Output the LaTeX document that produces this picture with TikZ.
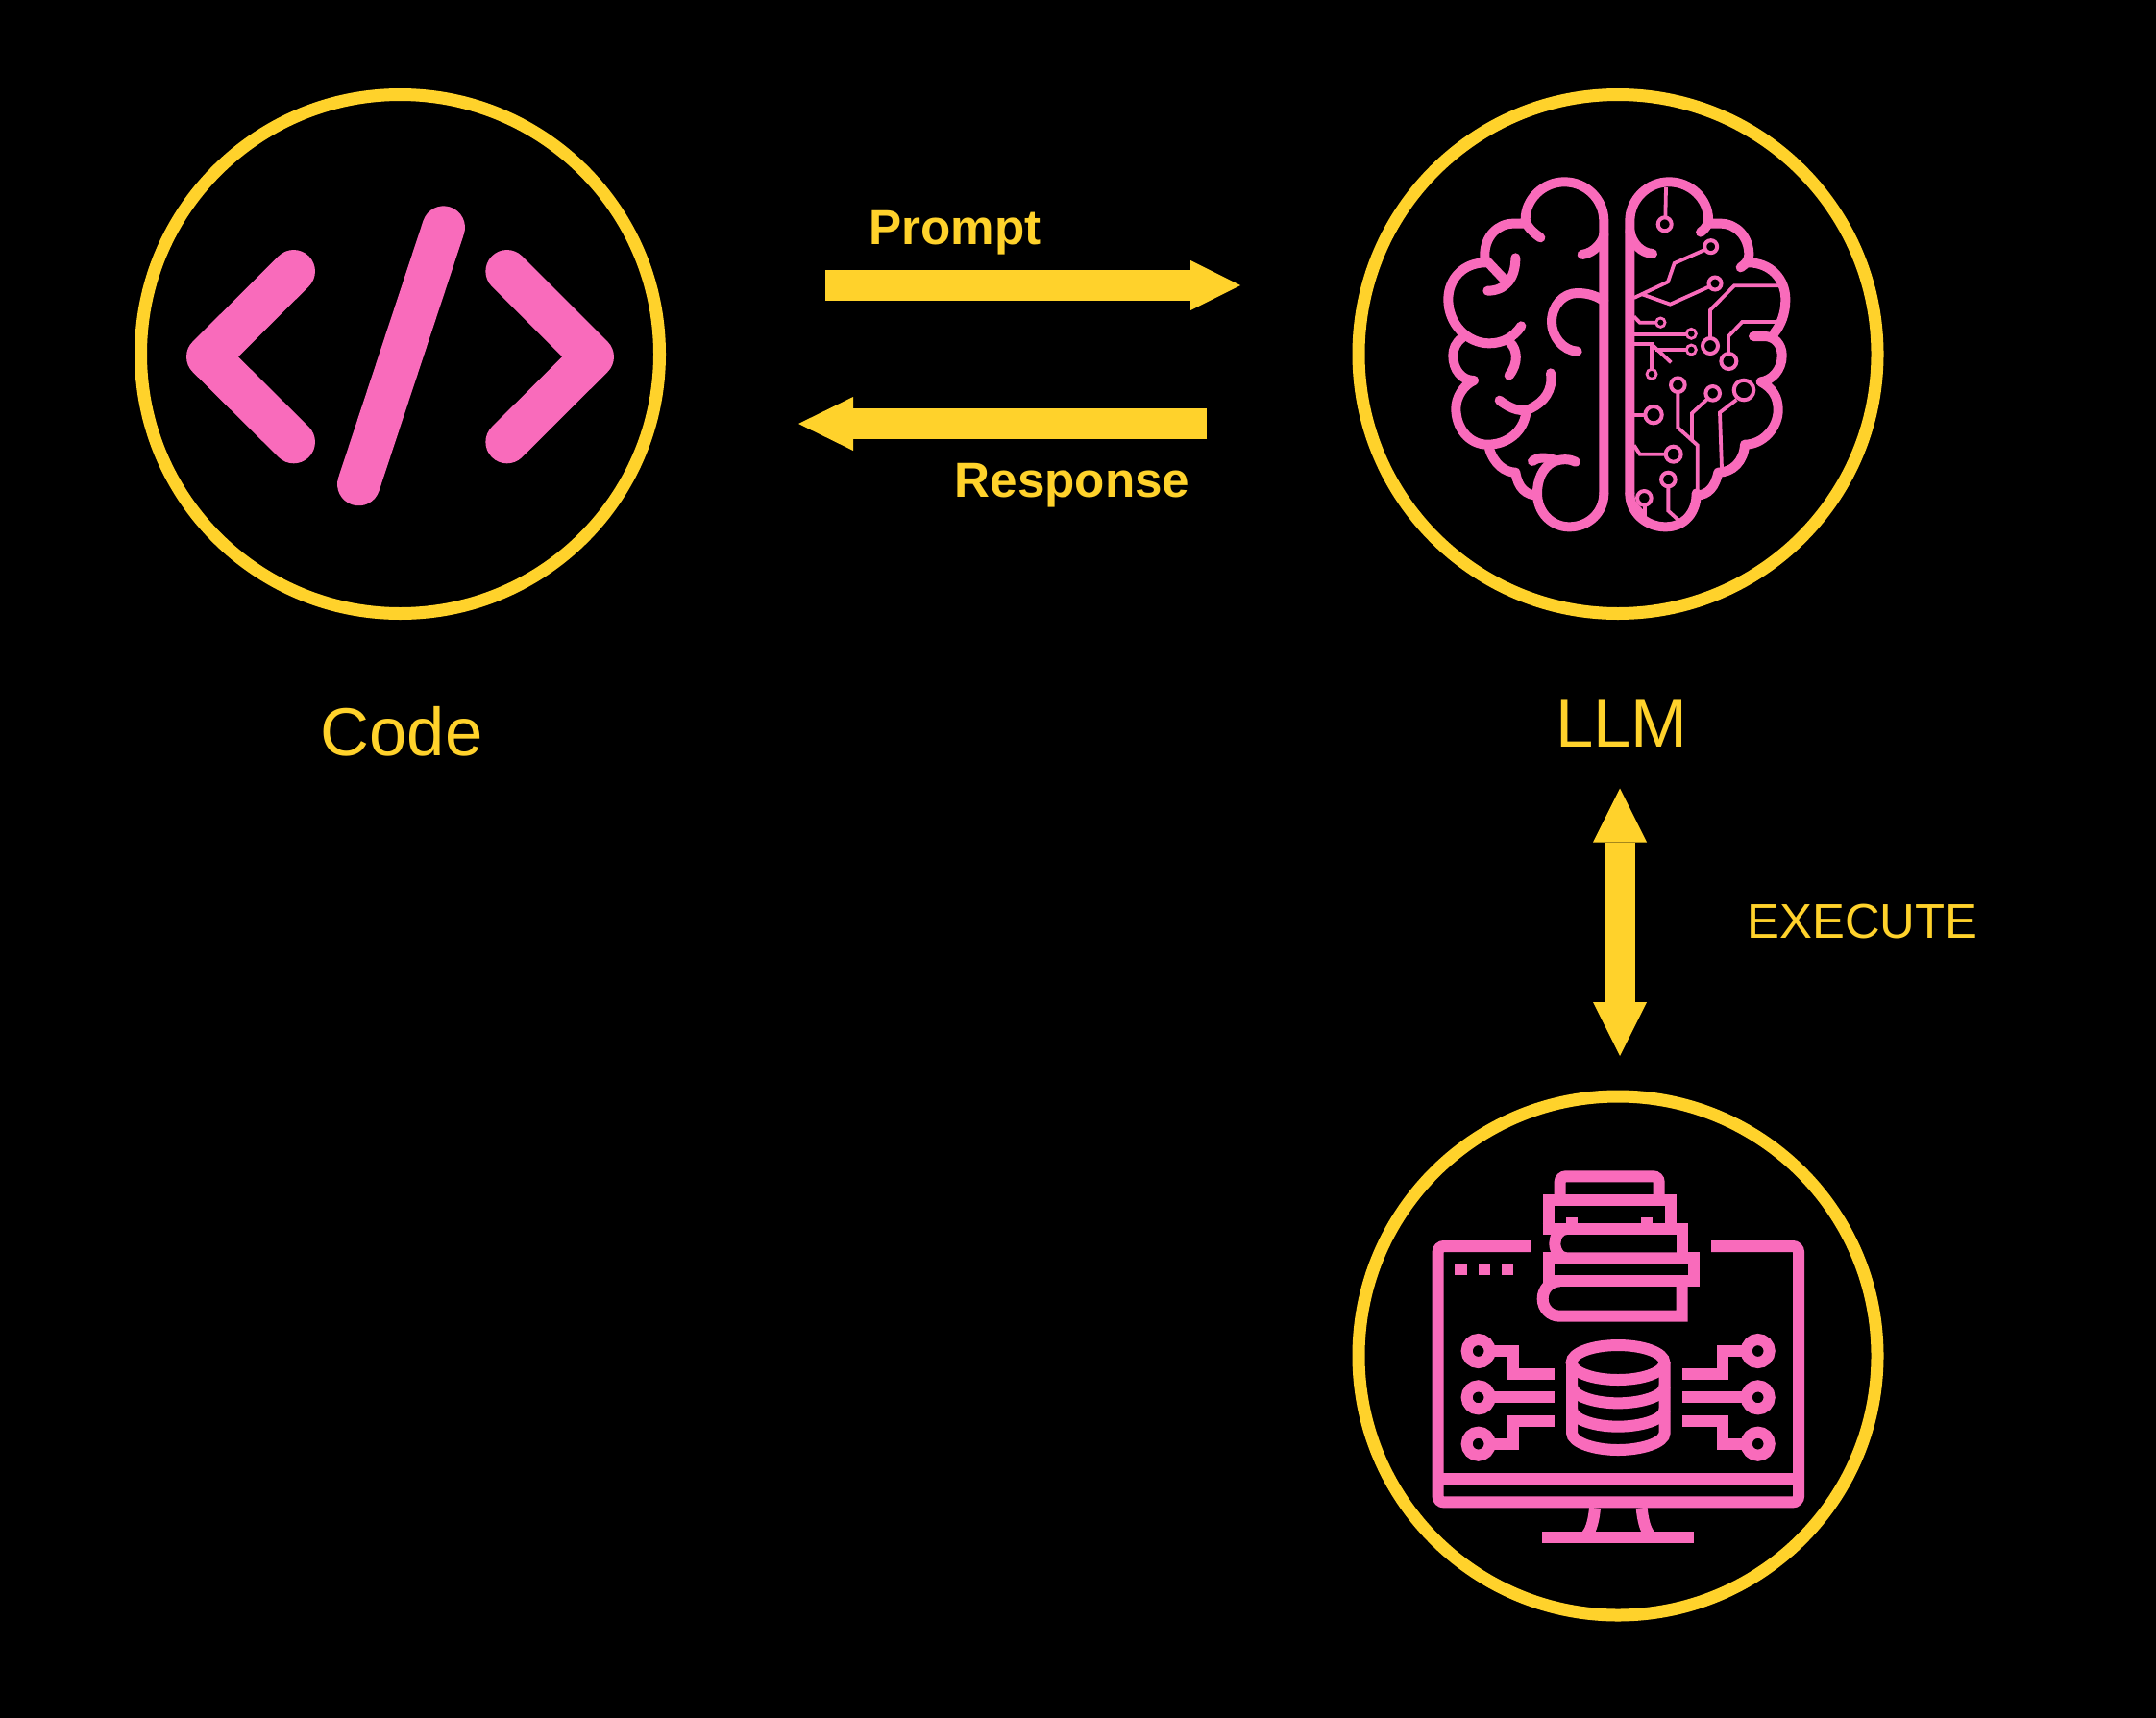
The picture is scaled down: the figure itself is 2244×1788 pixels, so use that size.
\documentclass[tikz,border=0pt]{standalone}
\usepackage{fontspec}
\setmainfont{Liberation Sans}
\usetikzlibrary{arrows.meta}
\definecolor{ringyellow}{HTML}{FFD22B}
\definecolor{iconpink}{HTML}{F96BBB}
\tikzset{
  ring/.style={circle,draw=ringyellow,line width=6.5pt,minimum size=270pt,inner sep=0pt,fill=none},
  biglabel/.style={text=ringyellow,font=\fontsize{35.3pt}{40pt}\selectfont,anchor=base,inner sep=0pt},
  boldlabel/.style={text=ringyellow,font=\fontsize{25.6pt}{30pt}\selectfont\bfseries,anchor=base,inner sep=0pt},
  smalllabel/.style={text=ringyellow,font=\fontsize{25.4pt}{30pt}\selectfont,anchor=base,inner sep=0pt},
  flow/.style={draw=ringyellow,line width=16pt,line cap=butt},
  righthead/.style={-{Triangle[length=26pt,width=26pt,line width=0pt,fill=ringyellow]}},
  lefthead/.style={-{Triangle[length=28.5pt,width=28pt,line width=0pt,fill=ringyellow]}},
  bothheads/.style={{Triangle[length=28pt,width=28pt,line width=0pt,fill=ringyellow]}-{Triangle[length=28pt,width=28pt,line width=0pt,fill=ringyellow]}},
  codestroke/.style={draw=iconpink,line width=22.3pt,line cap=round,line join=round},
  brainline/.style={draw=iconpink,line width=5pt,line cap=round,line join=round},
  wire/.style={draw=iconpink,line width=1.9pt,line cap=butt,line join=miter},
  pad/.style={circle,inner sep=0pt,draw=iconpink,line width=2pt,fill=black},
  srv/.style={draw=iconpink,line width=6pt,line cap=butt,line join=miter},
  dotsq/.style={fill=iconpink}
}
\begin{document}
\begin{tikzpicture}[x=0.5pt,y=-0.5pt]
\fill[black] (0,0) rectangle (2244,1788);
\useasboundingbox (0,0) rectangle (2244,1788);

\node[ring] (code) at (416.5,368.5) {};
\node[ring] (llm) at (1684,368.5) {};
\node[ring] (store) at (1684,1411) {};

\node[biglabel] (codelabel) at (418,786) {Code};
\node[biglabel] (llmlabel) at (1688,777.5) {LLM};
\node[boldlabel] (promptlabel) at (994,254) {Prompt};
\node[boldlabel] (responselabel) at (1116,517) {Response};
\node[smalllabel] (executelabel) at (1938.5,976) {EXECUTE};

\coordinate (pa) at (859,297);
\coordinate (pb) at (1291,297);
\coordinate (ra) at (1256,441);
\coordinate (rb) at (831,441);
\coordinate (ea) at (1686,820.5);
\coordinate (eb) at (1686,1099);
\draw[flow,righthead] (pa) -- (pb);
\draw[flow,lefthead] (ra) -- (rb);
\draw[flow,bothheads] (ea) -- (eb);

% code icon
\begin{scope}[shift={(170,190)},x=0.16667pt,y=-0.16667pt]
\draw[codestroke] (407,277) -- (139,544) -- (407,810);
\draw[codestroke] (1073,277) -- (1340,544) -- (1073,810);
\draw[codestroke] (875,140) -- (610,942);
\end{scope}

% brain icon
\begin{scope}[shift={(1460,150)},x=0.16667pt,y=-0.16667pt]
% left hemisphere
\draw[brainline] (628,1090) -- (628,240) .. controls (628,172) and (572,118) .. (505,118) .. controls (438,118) and (383,172) .. (383,235) .. controls (385,255) and (405,275) .. (430,292);
\draw[brainline] (383,248) -- (345,248) .. controls (295,248) and (256,290) .. (256,345) -- (256,358) -- (322,428);
\draw[brainline] (352,355) .. controls (352,420) and (320,458) .. (265,458);
\draw[brainline] (258,370) .. controls (190,370) and (142,420) .. (142,485) .. controls (142,560) and (200,622) .. (270,622) .. controls (310,622) and (345,605) .. (370,568);
\draw[brainline] (185,605) .. controls (165,620) and (157,640) .. (157,660) .. controls (157,705) and (185,738) .. (222,738) .. controls (190,752) and (166,790) .. (166,825) .. controls (166,885) and (205,938) .. (265,938) .. controls (325,938) and (375,900) .. (385,840);
\draw[brainline] (335,620) .. controls (358,640) and (362,685) .. (332,722);
\draw[brainline] (302,800) .. controls (340,830) and (375,838) .. (400,825) .. controls (440,805) and (470,770) .. (462,715);
\draw[brainline] (270,950) .. controls (285,1000) and (320,1025) .. (352,1025) .. controls (360,1075) and (385,1095) .. (420,1097);
\draw[brainline] (628,1090) .. controls (628,1150) and (580,1195) .. (520,1195) .. controls (465,1195) and (420,1150) .. (420,1090) .. controls (420,1050) and (435,1010) .. (470,992) .. controls (495,982) and (520,982) .. (540,992);
\draw[brainline] (405,990) .. controls (425,975) and (450,978) .. (480,988);
\draw[brainline] (560,345) .. controls (600,340) and (628,300) .. (628,280);
\draw[brainline] (628,490) .. controls (600,470) and (570,465) .. (545,465) .. controls (500,465) and (465,505) .. (465,555) .. controls (465,600) and (500,645) .. (545,647);
% right hemisphere
\draw[brainline] (709,1090) -- (709,240) .. controls (709,172) and (765,118) .. (832,118) .. controls (899,118) and (954,172) .. (954,235) .. controls (954,250) and (945,265) .. (930,275);
\draw[brainline] (954,248) -- (992,248) .. controls (1042,248) and (1081,290) .. (1081,345) .. controls (1081,362) and (1070,375) .. (1055,385);
\draw[brainline] (1079,370) .. controls (1147,370) and (1195,420) .. (1195,485) .. controls (1195,530) and (1180,565) .. (1160,590);
\draw[brainline] (1095,600) -- (1130,600) .. controls (1160,600) and (1184,625) .. (1184,660) .. controls (1184,705) and (1152,738) .. (1118,742) .. controls (1155,762) and (1172,790) .. (1172,830) .. controls (1172,885) and (1125,938) .. (1068,938) .. controls (1065,990) and (1030,1025) .. (985,1025) .. controls (975,1070) and (955,1095) .. (917,1097);
\draw[brainline] (917,1090) .. controls (917,1150) and (880,1195) .. (820,1195) .. controls (760,1195) and (709,1150) .. (709,1090);
\draw[brainline] (709,270) .. controls (715,310) and (745,340) .. (780,342);
% right hemisphere circuits
\draw[wire] (822,135) -- (820,230);
\node[pad,minimum size=7pt] (p1) at (818,250) {};
\draw[wire] (722,480) -- (828,430) -- (848,372) -- (943,330);
\node[pad,minimum size=6.5pt] (p2) at (962,320) {};
\draw[wire] (745,468) -- (835,500) -- (957,445);
\node[pad,minimum size=6.5pt] (p3) at (975,435) {};
\draw[wire] (1180,442) -- (1035,442) -- (960,518) -- (960,607);
\node[pad,minimum size=8pt] (p4) at (960,630) {};
\draw[wire] (1165,555) -- (1060,555) -- (1017,600) -- (1017,655);
\node[pad,minimum size=8pt] (p5) at (1018,678) {};
\draw[wire] (722,538) -- (740,557) -- (792,557);
\node[pad,minimum size=4.7pt,line width=1.4pt] (p6) at (805,557) {};
\draw[wire] (722,593) -- (886,593);
\node[pad,minimum size=5pt,line width=1.4pt] (p7) at (901,592) {};
\draw[wire] (722,625) -- (777,625) -- (777,703);
\node[pad,minimum size=5pt,line width=1.4pt] (p8) at (777,718) {};
\draw[wire] (777,625) -- (838,682);
\draw[wire] (790,642) -- (886,642);
\node[pad,minimum size=5pt,line width=1.4pt] (p9) at (901,642) {};
\draw[wire] (722,845) -- (758,845);
\node[pad,minimum size=8.7pt] (p10) at (783,845) {};
\draw[wire] (859,772) -- (859,885) -- (920,940) -- (920,1090);
\node[pad,minimum size=7.3pt] (p11) at (859,752) {};
\draw[wire] (952,795) -- (903,840) -- (903,922);
\node[pad,minimum size=7.3pt] (p12) at (968,778) {};
\draw[wire] (1042,798) -- (990,838) -- (996,1015);
\node[pad,minimum size=10.3pt] (p13) at (1065,768) {};
\draw[wire] (722,940) -- (740,968) -- (822,968);
\node[pad,minimum size=8pt] (p14) at (845,968) {};
\draw[wire] (829,1068) -- (829,1145) -- (862,1175);
\node[pad,minimum size=7.3pt] (p15) at (829,1047) {};
\draw[wire] (755,1125) -- (755,1165);
\draw[wire] (722,1118) -- (752,1152);
\node[pad,minimum size=7.3pt] (p16) at (754,1105) {};
\end{scope}

% server icon
\begin{scope}[shift={(1460,1190)},x=0.16667pt,y=-0.16667pt]
\draw[srv,rounded corners=3pt] (400,321) -- (110,321) -- (110,1120) -- (1236,1120) -- (1236,321) -- (963,321);
\draw[srv] (110,1048) -- (1236,1048);
\fill[dotsq] (163,376) rectangle (200,412);
\fill[dotsq] (236,376) rectangle (273,412);
\fill[dotsq] (309,376) rectangle (345,412);
\draw[srv] (600,1138) .. controls (597,1170) and (590,1205) .. (575,1222);
\draw[srv] (746,1138) .. controls (749,1170) and (756,1205) .. (771,1222);
\draw[srv] (436,1230) -- (909,1230);
% books
\draw[srv,rounded corners=3pt] (491,176) -- (491,103) -- (800,103) -- (800,176);
\draw[srv] (455,267) -- (455,176) -- (836,176) -- (836,267);
\fill[dotsq] (509,231) rectangle (545,249);
\fill[dotsq] (745,231) rectangle (781,249);
\draw[srv] (437,267) -- (872,267) -- (872,358);
\draw[srv] (510,267) .. controls (490,267) and (475,290) .. (475,312) .. controls (475,335) and (490,358) .. (510,358) -- (908,358);
\draw[srv] (455,340) -- (455,430) -- (908,430);
\draw[srv] (437,358) -- (510,358);
\draw[srv] (908,340) -- (908,448);
\draw[srv] (490,430) .. controls (460,430) and (437,455) .. (437,485) .. controls (437,515) and (460,539) .. (490,539) -- (872,539) -- (872,430);
% database
\draw[srv] (672,684) ellipse [x radius=145,y radius=54];
\draw[srv] (528,684) -- (528,903) .. controls (528,935) and (600,957) .. (672,957) .. controls (745,957) and (818,935) .. (818,903) -- (818,684);
\draw[srv] (528,757) .. controls (528,789) and (600,811) .. (672,811) .. controls (745,811) and (818,789) .. (818,757);
\draw[srv] (528,830) .. controls (528,862) and (600,884) .. (672,884) .. controls (745,884) and (818,862) .. (818,830);
% left connectors
\draw[srv] (272,648) -- (345,648) -- (345,720) -- (473,720);
\draw[srv] (272,793) -- (473,793);
\draw[srv] (272,938) -- (345,938) -- (345,866) -- (473,866);
\draw[srv] (236,648) circle [radius=36];
\draw[srv] (236,793) circle [radius=36];
\draw[srv] (236,938) circle [radius=36];
% right connectors
\draw[srv] (1073,648) -- (1000,648) -- (1000,720) -- (872,720);
\draw[srv] (1073,793) -- (872,793);
\draw[srv] (1073,938) -- (1000,938) -- (1000,866) -- (872,866);
\draw[srv] (1109,648) circle [radius=36];
\draw[srv] (1109,793) circle [radius=36];
\draw[srv] (1109,938) circle [radius=36];
\end{scope}
\end{tikzpicture}
\end{document}
